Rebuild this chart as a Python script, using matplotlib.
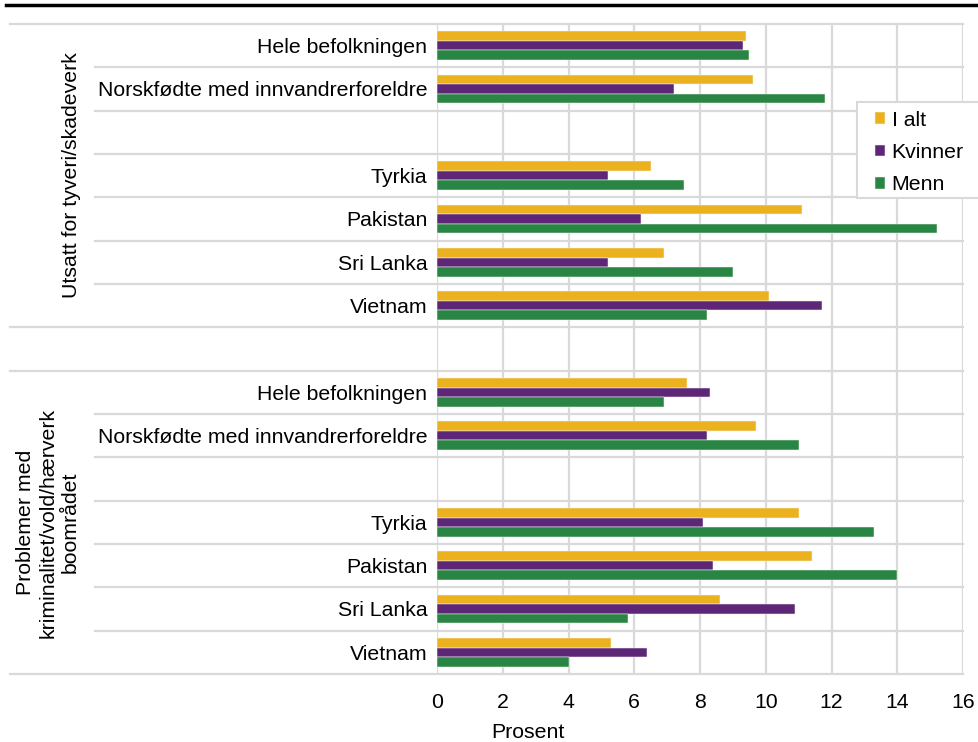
import matplotlib
matplotlib.use("Agg")
import matplotlib.pyplot as plt
import matplotlib.transforms as mtransforms
from matplotlib.lines import Line2D
from matplotlib.patches import Rectangle
import numpy as np

plt.rcParams['font.family'] = ['Liberation Sans', 'DejaVu Sans']

# data
categories = ["Hele befolkningen", "Norskfødte med innvandrerforeldre",
              "Tyrkia", "Pakistan", "Sri Lanka", "Vietnam"]
groups = ["Utsatt for tyveri/skadeverk",
          "Problemer med\nkriminalitet/vold/hærverk\nboområdet"]
series = ["I alt", "Kvinner", "Menn"]

tyveri_ialt = [9.4, 9.6, 6.5, 11.1, 6.9, 10.1]
tyveri_kvinner = [9.3, 7.2, 5.2, 6.2, 5.2, 11.7]
tyveri_menn = [9.5, 11.8, 7.5, 15.2, 9.0, 8.2]

krim_ialt = [7.6, 9.7, 11.0, 11.4, 8.6, 5.3]
krim_kvinner = [8.3, 8.2, 8.1, 8.4, 10.9, 6.4]
krim_menn = [6.9, 11.0, 13.3, 14.0, 5.8, 4.0]

xticks = [0, 2, 4, 6, 8, 10, 12, 14, 16]

colors = ['#EBB11F', '#5E2677', '#298543']
grid_col = '#d9d9d9'
f_size = 15.3

W, H = 979, 742
fig = plt.figure(figsize=(W / 100, H / 100), dpi=100)
x0, x1, y0, y1 = 437, 963, 24, 674
ax = fig.add_axes([x0 / W, 1 - y1 / H, (x1 - x0) / W, (y1 - y0) / H])

# rows: 7 per group (blank row after Norskfødte), one blank row between groups
rows_in_group = np.array([0, 1, 3, 4, 5, 6])
group_data = [[tyveri_ialt, tyveri_kvinner, tyveri_menn],
              [krim_ialt, krim_kvinner, krim_menn]]
bh = 0.22
offsets = [-bh, 0, bh]

ytick_pos = []
ytick_lab = []
for g, gd in enumerate(group_data):
    rows = rows_in_group + 8 * g
    for k, vals in enumerate(gd):
        ax.barh(rows + offsets[k], vals, height=bh, color=colors[k],
                edgecolor='#f4f4f4', linewidth=0.35,
                label=series[k] if g == 0 else None, zorder=3)
    ytick_pos += list(rows)
    ytick_lab += categories

ax.set_ylim(14.5, -0.5)
ax.set_xlim(0, 16)
ax.set_xticks(xticks)
ax.set_yticks(ytick_pos)
ax.set_yticklabels(ytick_lab)
ax.tick_params(axis='y', length=0, pad=7, labelsize=f_size)
ax.tick_params(axis='x', length=0, pad=14, labelsize=f_size)
for s in ax.spines.values():
    s.set_visible(False)
ax.grid(axis='x', color=grid_col, linewidth=1.6, zorder=0)
ax.set_axisbelow(True)

# horizontal separators reaching into the label area
trans = mtransforms.blended_transform_factory(ax.transAxes, ax.transData)
outer = [-0.5, 6.5, 7.5, 14.5]
for b in np.arange(-0.5, 15, 1.0):
    start = 10 if b in outer else 95
    ax.plot([(start - x0) / (x1 - x0), 1], [b, b], transform=trans,
            color=grid_col, linewidth=1.6, clip_on=False, zorder=1)

# group labels
fig.text(72 / W, 1 - 175.5 / H, groups[0], rotation=90, ha='center',
         va='center', fontsize=f_size)
fig.text(48 / W, 1 - 522.5 / H, groups[1], rotation=90, ha='center',
         va='center', multialignment='center', fontsize=f_size)

fig.text(528 / W, 1 - 733 / H, "Prosent", ha='center', va='center',
         fontsize=f_size)

# legend box runs off the right edge, so draw the frame separately
box = Rectangle((857 / W, 1 - 198 / H), (995 - 857) / W, 96 / H,
                transform=fig.transFigure, facecolor='white',
                edgecolor=grid_col, linewidth=1.5, zorder=4)
fig.add_artist(box)
leg = fig.legend(loc='center left', bbox_to_anchor=(875 / W, 1 - 152.5 / H),
                 borderaxespad=0, borderpad=0, frameon=False,
                 handlelength=0.48, handleheight=0.48,
                 handletextpad=0.3, labelspacing=0.63, fontsize=f_size)
leg.set_zorder(5)

# top black rule
fig.add_artist(Line2D([6 / W, 1], [1 - 5 / H, 1 - 5 / H], color='black',
                      linewidth=2.5))

fig.savefig('out.png', dpi=100)
